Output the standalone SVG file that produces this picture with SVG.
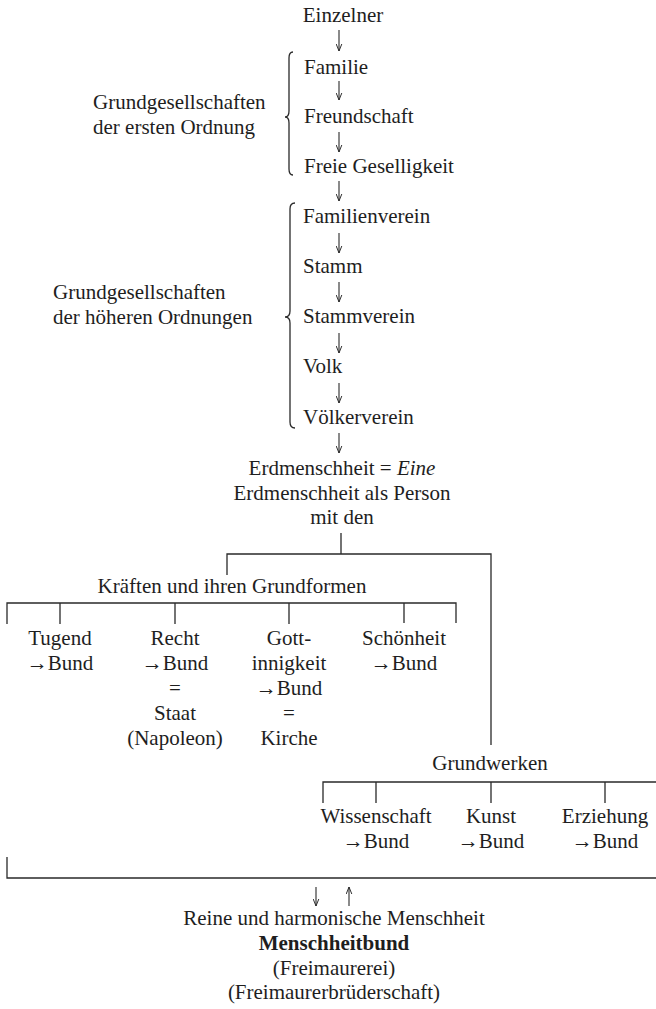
<svg xmlns="http://www.w3.org/2000/svg" width="656" height="1009" viewBox="0 0 656 1009">
<style>
text{font-family:"Liberation Serif","Times New Roman",serif;font-size:21px;fill:#1e1e1e}
.c{text-anchor:middle}
.b{font-weight:bold}
.ln{stroke:#2a2a2a;stroke-width:1.3;fill:none}
.ar{stroke:#2a2a2a;stroke-width:1.1;fill:none;marker-end:url(#ah)}
</style>
<defs>
<marker id="ah" viewBox="0 0 10 10" refX="10" refY="5" markerWidth="7" markerHeight="7" markerUnits="userSpaceOnUse" orient="auto">
<path d="M0,1 L10,5 L0,9" fill="none" stroke="#2a2a2a" stroke-width="1.4"/>
</marker>
</defs>
<rect width="656" height="1009" fill="#fff"/>

<g id="n-einzelner"><text x="343" y="22" class="c">Einzelner</text></g>
<g id="n-familie"><text x="304" y="74">Familie</text></g>
<g id="n-freundschaft"><text x="304" y="123">Freundschaft</text></g>
<g id="n-freie"><text x="304" y="173">Freie Geselligkeit</text></g>
<g id="n-label1"><text x="93" y="109">Grundgesellschaften</text><text x="93" y="134">der ersten Ordnung</text></g>
<g id="n-familienverein"><text x="303" y="223">Familienverein</text></g>
<g id="n-stamm"><text x="303" y="273">Stamm</text></g>
<g id="n-stammverein"><text x="303" y="323">Stammverein</text></g>
<g id="n-volk"><text x="303" y="373">Volk</text></g>
<g id="n-voelkerverein"><text x="303" y="424">Völkerverein</text></g>
<g id="n-label2"><text x="53" y="299">Grundgesellschaften</text><text x="53" y="324">der höheren Ordnungen</text></g>
<g id="n-erdmenschheit"><text x="342" y="475" class="c">Erdmenschheit = <tspan font-style="italic">Eine</tspan></text><text x="342" y="500" class="c">Erdmenschheit als Person</text><text x="342" y="524" class="c">mit den</text></g>
<g id="n-kraeften"><text x="232" y="593" class="c">Kräften und ihren Grundformen</text></g>
<g id="n-tugend"><text x="60" y="645" class="c">Tugend</text><text x="60" y="670" class="c">→Bund</text></g>
<g id="n-recht"><text x="175" y="645" class="c">Recht</text><text x="175" y="670" class="c">→Bund</text><text x="175" y="695" class="c">=</text><text x="175" y="720" class="c">Staat</text><text x="175" y="745" class="c">(Napoleon)</text></g>
<g id="n-gott"><text x="289" y="645" class="c">Gott-</text><text x="289" y="670" class="c">innigkeit</text><text x="289" y="695" class="c">→Bund</text><text x="289" y="720" class="c">=</text><text x="289" y="745" class="c">Kirche</text></g>
<g id="n-schoenheit"><text x="404" y="645" class="c">Schönheit</text><text x="404" y="670" class="c">→Bund</text></g>
<g id="n-grundwerken"><text x="490" y="770" class="c">Grundwerken</text></g>
<g id="n-wissenschaft"><text x="376" y="823" class="c">Wissenschaft</text><text x="376" y="848" class="c">→Bund</text></g>
<g id="n-kunst"><text x="491" y="823" class="c">Kunst</text><text x="491" y="848" class="c">→Bund</text></g>
<g id="n-erziehung"><text x="605" y="823" class="c">Erziehung</text><text x="605" y="848" class="c">→Bund</text></g>
<g id="n-menschheit"><text x="334" y="925" class="c">Reine und harmonische Menschheit</text><text x="334" y="950" class="c b">Menschheitbund</text><text x="334" y="975" class="c">(Freimaurerei)</text><text x="334" y="999" class="c">(Freimaurerbrüderschaft)</text></g>

<g id="connectors">
<line class="ar" x1="339" y1="30" x2="339" y2="51"/>
<line class="ar" x1="339" y1="81" x2="339" y2="100"/>
<line class="ar" x1="339" y1="132" x2="339" y2="152"/>
<line class="ar" x1="339" y1="181" x2="339" y2="201"/>
<line class="ar" x1="339" y1="233" x2="339" y2="253"/>
<line class="ar" x1="339" y1="282" x2="339" y2="302"/>
<line class="ar" x1="339" y1="333" x2="339" y2="353"/>
<line class="ar" x1="339" y1="383" x2="339" y2="403"/>
<line class="ar" x1="339" y1="433" x2="339" y2="453"/>
<path class="ln" d="M293,52 Q289,52 289,58 L289,111 Q289,117 285,117 Q289,117 289,123 L289,169 Q289,175 293,175"/>
<path class="ln" d="M295,203 Q290,203 290,209 L290,311 Q290,317 285,317 Q290,317 290,323 L290,422 Q290,428 295,428"/>
<path class="ln" d="M341,533 L341,554 M227,575 L227,554 L491,554 L491,745"/>
<path class="ln" d="M7,624 L7,603 L456,603 L456,623 M60,603 L60,624 M175,603 L175,624 M289,603 L289,624 M404,603 L404,623"/>
<path class="ln" d="M323,803 L323,782 L656,782 M376,782 L376,803 M491,782 L491,803 M605,782 L605,803"/>
<path class="ln" d="M7,857 L7,878 L656,878"/>
<line class="ar" x1="316" y1="887" x2="316" y2="906"/>
<line class="ar" x1="349" y1="906" x2="349" y2="887"/>
</g>
</svg>
